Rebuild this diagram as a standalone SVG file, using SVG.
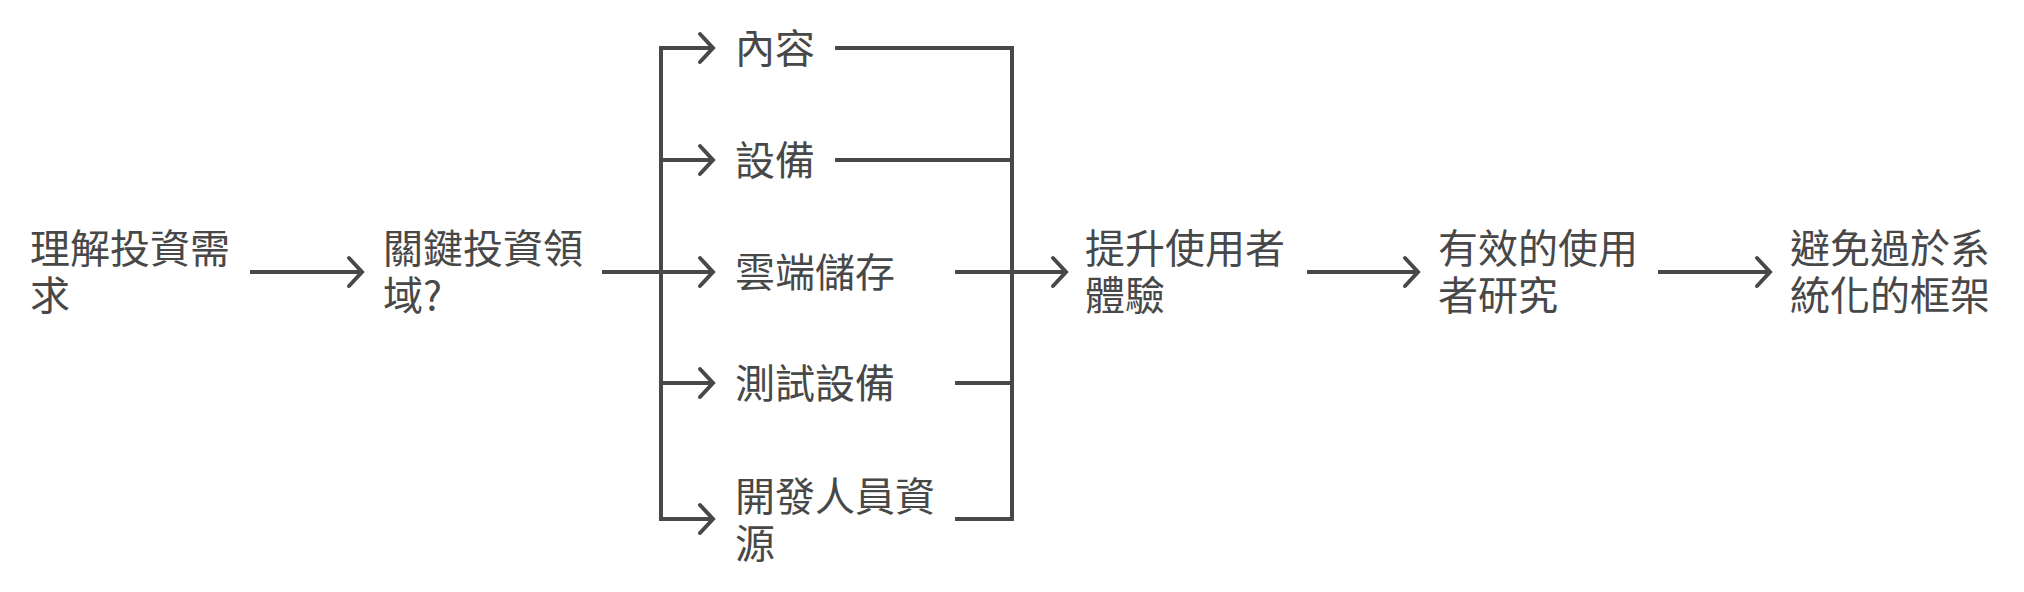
<svg xmlns="http://www.w3.org/2000/svg" width="2024" height="592" viewBox="0 0 2024 592">
<style>
  .t { font-family: "Noto Sans CJK TC", "Noto Sans CJK SC", sans-serif; font-size: 40px; fill: #484848; }
  .c { fill: none; stroke: #484848; stroke-width: 4; }
  .a { marker-end: url(#arr); }
</style>
<defs>
  <marker id="arr" markerUnits="userSpaceOnUse" markerWidth="24" markerHeight="36" viewBox="0 0 24 36" refX="18" refY="18" orient="auto" overflow="visible">
    <path d="M5,4 L18,18 L5,32" fill="none" stroke="#484848" stroke-width="4" stroke-linecap="round" stroke-linejoin="miter"/>
  </marker>
</defs>
<rect width="2024" height="592" fill="#ffffff"/>
<g id="connectors">
  <path class="c a" d="M250,272 H362"/>
  <path class="c" d="M602,272 H661"/>
  <path class="c" d="M661,48 V519" stroke-linecap="square"/>
  <path class="c a" d="M661,48 H713"/>
  <path class="c a" d="M661,160 H713"/>
  <path class="c a" d="M661,272 H713"/>
  <path class="c a" d="M661,383 H713"/>
  <path class="c a" d="M661,519 H713"/>
  <path class="c" d="M835,48 H1012"/>
  <path class="c" d="M835,160 H1012"/>
  <path class="c" d="M955,383 H1012"/>
  <path class="c" d="M955,519 H1012"/>
  <path class="c" d="M1012,48 V519" stroke-linecap="square"/>
  <path class="c a" d="M955,272 H1066"/>
  <path class="c a" d="M1307,272 H1418"/>
  <path class="c a" d="M1658,272 H1770"/>
</g>
<g id="n1"><text class="t" x="30" y="263">理解投資需</text><text class="t" x="30" y="310">求</text></g>
<g id="n2"><text class="t" x="383" y="263">關鍵投資領</text><text class="t" x="383" y="310">域?</text></g>
<g id="b1"><text class="t" x="735" y="63">內容</text></g>
<g id="b2"><text class="t" x="735" y="175">設備</text></g>
<g id="b3"><text class="t" x="735" y="287">雲端儲存</text></g>
<g id="b4"><text class="t" x="735" y="398">測試設備</text></g>
<g id="b5"><text class="t" x="735" y="511">開發人員資</text><text class="t" x="735" y="558">源</text></g>
<g id="n3"><text class="t" x="1085" y="263">提升使用者</text><text class="t" x="1085" y="310">體驗</text></g>
<g id="n4"><text class="t" x="1438" y="263">有效的使用</text><text class="t" x="1438" y="310">者研究</text></g>
<g id="n5"><text class="t" x="1790" y="263">避免過於系</text><text class="t" x="1790" y="310">統化的框架</text></g>
</svg>
